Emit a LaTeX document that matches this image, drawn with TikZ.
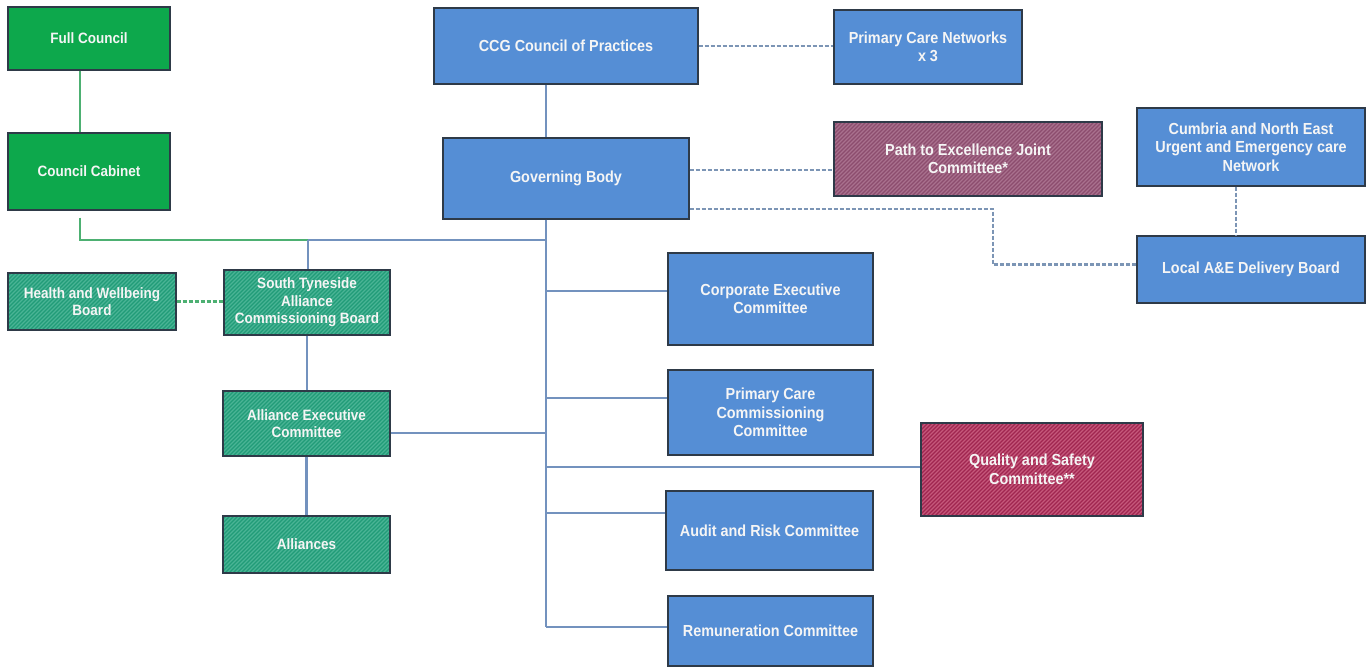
\documentclass[tikz,border=0pt]{standalone}
\usepackage{fontspec}
\setmainfont{Liberation Sans}[FakeStretch=0.9]
\usetikzlibrary{calc}

\definecolor{boxblue}{HTML}{558ED5}
\definecolor{councilgreen}{HTML}{0DA84C}
\definecolor{allteal}{HTML}{219C78}
\definecolor{allstripe}{HTML}{4AB495}
\definecolor{ptemauve}{HTML}{8C4D6E}
\definecolor{ptestripe}{HTML}{A9718E}
\definecolor{qscrimson}{HTML}{A02650}
\definecolor{qsstripe}{HTML}{C5587B}
\definecolor{edgecol}{HTML}{2E3A48}
\definecolor{linkblue}{HTML}{7392BE}
\definecolor{linkgreen}{HTML}{4DB072}
\definecolor{dashblue}{HTML}{7C95B5}

\tikzset{
  x=1pt, y=-1pt,
  box/.style={draw=edgecol, line width=1.3pt, text=white!96!black, align=center,
    inner sep=0pt, font=\bfseries\fontsize{16}{18.5}\selectfont},
  bluebox/.style={box, fill=boxblue},
  greenbox/.style={box, fill=councilgreen, font=\bfseries\fontsize{15}{17.5}\selectfont},
  hatch/.style={path picture={
      \foreach \k in {-120,-116,...,300}
        \draw[#1, line width=1.2pt]
          ([xshift=\k pt]path picture bounding box.south west) -- ++(130pt,130pt);
    }},
  allybox/.style={box, fill=allteal, hatch=allstripe,
    font=\bfseries\fontsize{15}{17.5}\selectfont},
  jointbox/.style={box, fill=ptemauve, hatch=ptestripe},
  qualbox/.style={box, fill=qscrimson, hatch=qsstripe},
  bluelink/.style={draw=linkblue, line width=2.2pt},
  greenlink/.style={draw=linkgreen, line width=2.2pt},
  bluedash/.style={draw=dashblue, line width=2.2pt, dash pattern=on 4pt off 2pt},
  greendash/.style={draw=linkgreen, line width=2.4pt, dash pattern=on 4pt off 2pt},
}

\begin{document}
\begin{tikzpicture}
\useasboundingbox[fill=white] (0,0) rectangle (1368,668);

% Council side
\node[greenbox, minimum width=162pt, minimum height=63pt] (fc) at (89,38.5) {Full Council};
\node[greenbox, minimum width=162pt, minimum height=77pt] (cc) at (89,171.5) {Council Cabinet};

% Alliance side
\node[allybox, minimum width=168pt, minimum height=57pt] (hwb) at (92,301.5) {Health and Wellbeing\\Board};
\node[allybox, minimum width=166pt, minimum height=65pt] (st) at (307,302.5) {South Tyneside\\Alliance\\Commissioning Board};
\node[allybox, minimum width=167pt, minimum height=65pt] (aec) at (306.5,423.5) {Alliance Executive\\Committee};
\node[allybox, minimum width=167pt, minimum height=57pt] (all) at (306.5,544.5) {Alliances};

% CCG
\node[bluebox, minimum width=264pt, minimum height=76pt] (ccg) at (566,46) {CCG Council of Practices};
\node[bluebox, minimum width=188pt, minimum height=74pt] (pcn) at (928,47) {Primary Care Networks\\x 3};
\node[bluebox, minimum width=246pt, minimum height=81pt] (gb) at (566,178.5) {Governing Body};
\node[jointbox, minimum width=268pt, minimum height=74pt] (pte) at (968,159) {Path to Excellence Joint\\Committee*};
\node[bluebox, minimum width=228pt, minimum height=78pt] (cumb) at (1251,147) {Cumbria and North East\\Urgent and Emergency care\\Network};
\node[bluebox, minimum width=228pt, minimum height=67pt] (lae) at (1251,269.5) {Local A\&E Delivery Board};

% Committees
\node[bluebox, minimum width=205pt, minimum height=92pt] (cec) at (770.5,299) {Corporate Executive\\Committee};
\node[bluebox, minimum width=205pt, minimum height=85pt] (pcc) at (770.5,412.5) {Primary Care\\Commissioning\\Committee};
\node[qualbox, minimum width=222pt, minimum height=93pt] (qsc) at (1032,469.5) {Quality and Safety\\Committee**};
\node[bluebox, minimum width=207pt, minimum height=79pt] (arc) at (769.5,530.5) {Audit and Risk Committee};
\node[bluebox, minimum width=205pt, minimum height=70pt] (rem) at (770.5,631) {Remuneration Committee};

% Junction points
\coordinate (lx) at (80,240);
\coordinate (jst) at (308,240);
\coordinate (jtop) at (546,240);
\coordinate (b1) at (546,291);
\coordinate (b2) at (546,398);
\coordinate (ba) at (546,433);
\coordinate (b3) at (546,467);
\coordinate (b4) at (546,513);
\coordinate (tend) at (546,627);
\coordinate (dp) at (834,170);
\coordinate (de) at (993,209);
\coordinate (dc) at (1236,0);

% Council links
\draw[greenlink] (fc.south -| lx) -- (cc.north -| lx);
\draw[greenlink] ($(cc.south -| lx)+(0,7)$) -- (lx) -- (jst);

% Solid reporting lines
\draw[bluelink] (jst) -- (jtop);
\draw[bluelink] (jst) -- (st.north -| jst);
\draw[bluelink] (st.south) -- (st.south |- aec.north);
\draw[bluelink] (aec.south) -- (aec.south |- all.north);
\draw[bluelink] (ccg.south -| jtop) -- (gb.north -| jtop);
\draw[bluelink] (gb.south -| jtop) -- (tend);
\draw[bluelink] (ba) -- (ba -| aec.east);
\draw[bluelink] (b1) -- (b1 -| cec.west);
\draw[bluelink] (b2) -- (b2 -| pcc.west);
\draw[bluelink] (b3) -- (b3 -| qsc.west);
\draw[bluelink] (b4) -- (b4 -| arc.west);
\draw[bluelink] (tend) -- (tend -| rem.west);

% Dashed links
\draw[greendash] (hwb.east) -- (hwb.east -| st.west);
\draw[bluedash] (ccg.east) -- (ccg.east -| pcn.west);
\draw[bluedash] (dp -| gb.east) -- (dp -| pte.west);
\draw[bluedash] (de -| gb.east) -- (de) |- ($(lae.west)+(0,-5)$);
\draw[bluedash] (cumb.south -| dc) -- (lae.north -| dc);
\end{tikzpicture}
\end{document}
